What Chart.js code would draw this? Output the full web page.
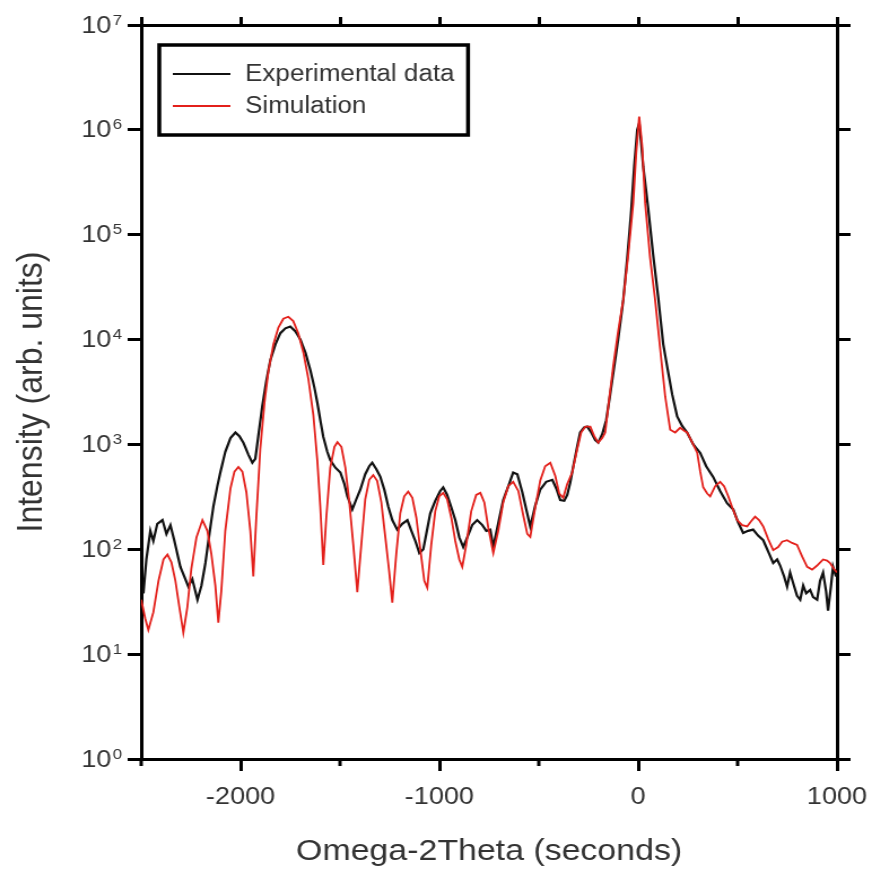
<!DOCTYPE html>
<html>
<head>
<meta charset="utf-8">
<script src="https://cdn.jsdelivr.net/npm/chart.js@4"></script>
<style>
  html, body { margin: 0; padding: 0; background: #fff; }
  #xrd { display: block; }
</style>
</head>
<body>
<!-- the original plot is a bit wider than tall, so draw narrow and stretch -->
<canvas id="xrd" width="772" height="873" style="width:872px;height:873px"></canvas>
<script>
// omega-2theta scan, seconds vs intensity
const expX = [
  -2489, -2474, -2454, -2439, -2419, -2393, -2373, -2353, -2333, -2303,
  -2283, -2263, -2243, -2217, -2197, -2177, -2157, -2137, -2117, -2102,
  -2077, -2051, -2026, -2006, -1986, -1961, -1941, -1926, -1911, -1891,
  -1871, -1850, -1825, -1800, -1775, -1750, -1725, -1699, -1674, -1649,
  -1629, -1614, -1599, -1584, -1564, -1549, -1523, -1498, -1478, -1463,
  -1438, -1418, -1398, -1373, -1353, -1338, -1317, -1297, -1277, -1257,
  -1237, -1212, -1187, -1161, -1141, -1121, -1101, -1081, -1066, -1046,
  -1021, -996, -981, -961, -940, -920, -900, -880, -860, -835,
  -810, -784, -764, -744, -729, -709, -679, -649, -629, -608,
  -583, -563, -543, -518, -493, -463, -432, -412, -392, -372,
  -357, -342, -327, -307, -292, -272, -256, -236, -216, -201,
  -181, -161, -141, -121, -101, -75, -55, -35, -20, -5,
  5, 15, 25, 50, 75, 101, 126, 146, 171, 196,
  221, 246, 277, 312, 342, 377, 412, 447, 478, 503,
  528, 553, 578, 603, 629, 654, 679, 699, 714, 734,
  749, 764, 779, 799, 815, 830, 845, 865, 880, 900,
  915, 930, 945, 955, 970, 980, 995
];
const expY = [
  38, 80, 150, 120, 175, 190, 140, 170, 120, 68,
  55, 44, 52, 33, 45, 74, 140, 255, 400, 540,
  850, 1150, 1300, 1200, 1040, 800, 670, 730, 1200, 2300,
  4000, 6400, 9000, 11500, 12800, 13300, 12000, 10000, 7500, 5100,
  3500, 2500, 1700, 1180, 850, 710, 600, 540, 420, 320,
  240, 300, 370, 520, 620, 670, 580, 490, 370, 255,
  190, 154, 175, 190, 150, 120, 92, 100, 140, 220,
  290, 360, 390, 330, 250, 190, 130, 105, 130, 170,
  190, 170, 150, 154, 105, 160, 295, 420, 540, 520,
  350, 240, 165, 260, 370, 440, 460, 380, 295, 290,
  330, 430, 610, 950, 1300, 1450, 1480, 1300, 1100, 1040,
  1250, 1700, 3000, 5500, 10000, 24000, 60000, 170000, 450000, 1000000,
  1150000, 750000, 450000, 180000, 65000, 25000, 9000, 5500, 3000, 1850,
  1500, 1300, 1000, 830, 620, 490, 360, 275, 240, 180,
  143, 150, 154, 135, 122, 95, 74, 80, 70, 55,
  44, 60, 48, 36, 33, 45, 38, 41, 35, 33,
  50, 60, 40, 26, 45, 68, 55
];

const simX = [
  -2500, -2480, -2464, -2439, -2413, -2388, -2368, -2348, -2328, -2308,
  -2288, -2268, -2248, -2222, -2192, -2167, -2147, -2127, -2112, -2097,
  -2077, -2051, -2031, -2011, -1991, -1971, -1951, -1936, -1921, -1901,
  -1880, -1860, -1835, -1810, -1785, -1760, -1735, -1710, -1684, -1659,
  -1634, -1614, -1599, -1584, -1569, -1549, -1528, -1513, -1493, -1473,
  -1453, -1433, -1413, -1393, -1373, -1353, -1333, -1313, -1292, -1272,
  -1252, -1237, -1217, -1197, -1177, -1157, -1136, -1116, -1096, -1076,
  -1061, -1041, -1021, -1001, -981, -961, -940, -920, -900, -885,
  -865, -840, -815, -794, -774, -754, -729, -704, -679, -654,
  -629, -603, -578, -558, -543, -518, -493, -468, -442, -417,
  -397, -377, -357, -332, -307, -287, -266, -241, -221, -201,
  -181, -166, -146, -126, -101, -75, -50, -25, -10, 5,
  20, 35, 60, 85, 111, 136, 161, 186, 211, 231,
  246, 271, 297, 312, 327, 347, 362, 387, 412, 432,
  453, 473, 498, 523, 548, 568, 588, 608, 629, 654,
  679, 704, 724, 749, 774, 799, 825, 850, 875, 900,
  930, 950, 965, 985, 1000
];
const simY = [
  33, 22, 17, 25, 50, 80, 89, 75, 50, 28,
  16, 28, 65, 130, 190, 150, 90, 45, 20, 40,
  150, 380, 550, 610, 550, 350, 150, 55, 200, 900,
  2500, 5000, 9000, 13000, 15800, 16500, 15000, 11500, 7500, 4200,
  1900, 700, 250, 71, 200, 600, 950, 1050, 950, 600,
  280, 110, 39, 110, 300, 460, 510, 450, 280, 130,
  60, 31, 90, 220, 320, 355, 310, 200, 100, 50,
  43, 110, 230, 320, 345, 300, 200, 120, 80, 68,
  110, 230, 330, 345, 280, 160, 92, 150, 280, 400,
  440, 360, 210, 140, 131, 250, 450, 620, 670, 500,
  340, 310, 420, 540, 900, 1300, 1480, 1480, 1200, 1040,
  1150, 1300, 2700, 5500, 12000, 24000, 65000, 200000, 600000, 1340000,
  700000, 200000, 60000, 24000, 8000, 2850, 1380, 1300, 1440, 1350,
  1300, 1050, 830, 550, 390, 340, 320, 400, 440, 400,
  320, 250, 190, 170, 165, 185, 205, 190, 165, 125,
  98, 105, 118, 122, 115, 110, 85, 68, 64, 70,
  80, 78, 74, 65, 60
];

const xMajor = [-2000, -1000, 0, 1000];
const xMinor = [-2500, -1500, -500, 500];
const xAll = [-2500, -2000, -1500, -1000, -500, 0, 500, 1000];
const yExps = [0, 1, 2, 3, 4, 5, 6, 7];

const family = '"Liberation Sans", Arial, Helvetica, sans-serif';
const txt = '#333';

const setTicks = (vals) => (s) => { s.ticks = vals.map(v => ({ value: v })); };
const frame = { color: '#000', width: 3 };
// fixed box sizes so the plot frame sits where the original one does
const fixSize = (w, h) => (s) => {
  if (w !== null) s.width = w;
  if (h !== null) s.height = h;
  s.paddingLeft = s.paddingRight = s.paddingTop = s.paddingBottom = 0;
};

// minor ticks on the bottom, 10^n labels, boxed legend
const extras = {
  id: 'extras',
  afterDraw(chart) {
    const { ctx, chartArea: ca, scales } = chart;
    ctx.save();

    ctx.strokeStyle = '#000';
    ctx.lineWidth = 3;
    xMinor.forEach(v => {
      const px = scales.x.getPixelForValue(v);
      ctx.beginPath();
      ctx.moveTo(px, ca.bottom);
      ctx.lineTo(px, ca.bottom + 7);
      ctx.stroke();
    });

    ctx.fillStyle = txt;
    yExps.forEach(e => {
      const py = scales.y.getPixelForValue(Math.pow(10, e));
      const sup = String(e);
      ctx.font = '15px ' + family;
      const w2 = ctx.measureText(sup).width;
      ctx.font = '24px ' + family;
      const w1 = ctx.measureText('10').width;
      const right = ca.left - 17;
      ctx.textAlign = 'left';
      ctx.textBaseline = 'middle';
      ctx.fillText('10', right - w2 - w1 - 1, py + 1);
      ctx.font = '15px ' + family;
      ctx.textBaseline = 'top';
      ctx.fillText(sup, right - w2, py - 12);
    });

    // legend box
    const items = chart.data.datasets;
    ctx.font = '23px ' + family;
    const tw = Math.max(...items.map(d => ctx.measureText(d.label).width));
    const bx = ca.left + 16, by = ca.top + 20;
    const bw = 76 + tw + 12, bh = 90;
    ctx.fillStyle = '#fff';
    ctx.fillRect(bx, by, bw, bh);
    ctx.lineWidth = 3.5;
    ctx.strokeStyle = '#000';
    ctx.strokeRect(bx, by, bw, bh);
    items.forEach((d, i) => {
      const ry = by + 29 + i * 32;
      ctx.strokeStyle = d.borderColor;
      ctx.lineWidth = 2;
      ctx.beginPath();
      ctx.moveTo(bx + 12, ry);
      ctx.lineTo(bx + 63, ry);
      ctx.stroke();
      ctx.fillStyle = txt;
      ctx.textBaseline = 'middle';
      ctx.textAlign = 'left';
      ctx.fillText(d.label, bx + 76, ry + 1);
    });
    ctx.restore();
  }
};

const ctx = document.getElementById('xrd');

new Chart(ctx, {
  type: 'line',
  data: {
    datasets: [{
      label: 'Experimental data',
      data: expX.map((x, i) => ({ x: x, y: expY[i] })),
      borderColor: '#111',
      borderWidth: 2.2,
      pointRadius: 0,
      xAxisID: 'x',
      yAxisID: 'y',
      order: 2
    }, {
      label: 'Simulation',
      data: simX.map((x, i) => ({ x: x, y: simY[i] })),
      borderColor: '#e3201b',
      borderWidth: 1.8,
      pointRadius: 0,
      xAxisID: 'x',
      yAxisID: 'y',
      order: 1
    }]
  },
  options: {
    responsive: false,
    animation: false,
    devicePixelRatio: 1,
    layout: { padding: 0 },
    plugins: {
      legend: { display: false },
      tooltip: { enabled: false }
    },
    scales: {
      x: {
        type: 'linear',
        position: 'bottom',
        min: -2500,
        max: 1000,
        afterBuildTicks: setTicks(xMajor),
        afterFit: fixSize(null, 114),
        grid: { drawOnChartArea: false, tickLength: 12, lineWidth: 3, color: '#000' },
        border: frame,
        ticks: {
          font: { size: 24, family: family },
          color: txt,
          padding: 12,
          maxRotation: 0,
          callback: (v) => String(v)
        },
        title: {
          display: true,
          text: 'Omega-2Theta (seconds)',
          font: { size: 30, family: family },
          color: txt,
          padding: { top: 0, bottom: 3 }
        }
      },
      x2: {
        type: 'linear',
        position: 'top',
        min: -2500,
        max: 1000,
        afterBuildTicks: setTicks(xAll),
        afterFit: fixSize(null, 25),
        grid: { drawOnChartArea: false, tickLength: 8, lineWidth: 3, color: '#000' },
        border: frame,
        ticks: { display: false }
      },
      y: {
        type: 'logarithmic',
        position: 'left',
        min: 1,
        max: 1e7,
        afterBuildTicks: setTicks(yExps.map(e => Math.pow(10, e))),
        afterFit: fixSize(125, null),
        grid: { drawOnChartArea: false, tickLength: 12, lineWidth: 3, color: '#000' },
        border: frame,
        ticks: { display: false },
        title: {
          display: true,
          text: 'Intensity (arb. units)',
          font: { size: 32, family: family },
          color: txt,
          padding: { top: 9, bottom: 0 }
        }
      },
      y2: {
        type: 'logarithmic',
        position: 'right',
        min: 1,
        max: 1e7,
        afterBuildTicks: setTicks(yExps.map(e => Math.pow(10, e))),
        afterFit: fixSize(31, null),
        grid: { drawOnChartArea: false, tickLength: 12, lineWidth: 3, color: '#000' },
        border: frame,
        ticks: { display: false }
      }
    }
  },
  plugins: [extras]
});
</script>
</body>
</html>
